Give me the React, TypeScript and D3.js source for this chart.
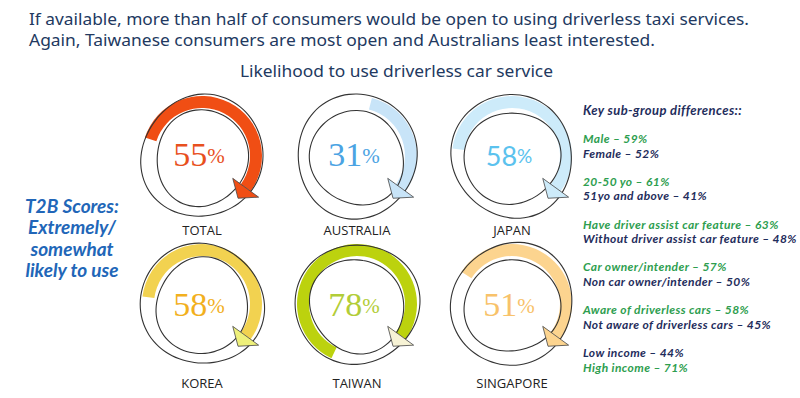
import React from 'react';
import { arc, curveCardinalClosed, lineRadial, range, scalePoint } from 'd3';

const categories = ['TOTAL', 'AUSTRALIA', 'JAPAN', 'KOREA', 'TAIWAN', 'SINGAPORE'];
const values = [55, 31, 58, 58, 78, 51];
const bandColors = ['#F04E14', '#C8E4F8', '#CDEBFA', '#F2D250', '#BCD20E', '#FCD48F'];
const arrowColors = ['#F04E14', '#C8E4F8', '#CDEBFA', '#EEF07A', '#F7F3D5', '#FCD48F'];
const numberColors = ['#E8501E', '#4BA3E3', '#5BC2EE', '#F2B01E', '#B2CD38', '#F8C26A'];
const serifNumbers = [true, true, false, true, true, true];

const titleLines = [
  'If available, more than half of consumers would be open to using driverless taxi services.',
  'Again, Taiwanese consumers are most open and Australians least interested.',
];
const subtitle = 'Likelihood to use driverless car service';
const leftNote = ['T2B Scores:', 'Extremely/', 'somewhat', 'likely to use'];

const keyHeader = 'Key sub-group differences::';
const keyLines = [
  ['Male \u2013 59%', 'Female \u2013 52%'],
  ['20-50 yo \u2013 61%', '51yo and above \u2013 41%'],
  ['Have driver assist car feature \u2013 63%', 'Without driver assist car feature \u2013 48%'],
  ['Car owner/intender \u2013 57%', 'Non car owner/intender \u2013 50%'],
  ['Aware of driverless cars \u2013 58%', 'Not aware of driverless cars \u2013 45%'],
  ['Low income \u2013 44%', 'High income \u2013 71%'],
];
// true = green (higher group), false = navy
const keyGreen = [
  [true, false],
  [true, false],
  [true, false],
  [true, false],
  [true, false],
  [false, true],
];

const width = 800;
const height = 398;
const navy = '#22395F';
const green = '#2E9E4F';
const keyNavy = '#1F2D5C';

const outerR = 61;
const innerR = 47;
const endDeg = 126;

const col = scalePoint<number>().domain([0, 1, 2]).range([202, 512]);
const row = scalePoint<number>().domain([0, 1]).range([156, 304]);

const bandArc = arc<{ start: number; end: number }>()
  .innerRadius(innerR + 1)
  .outerRadius(outerR - 1)
  .startAngle(d => d.start)
  .endAngle(d => d.end);

// slightly wobbly closed outline to mimic the hand drawn rings
function sketchCircle(r: number, seed: number) {
  const pts = range(0, 48).map(i => {
    const t = (i / 48) * Math.PI * 2;
    const rr = r + 1.6 * Math.sin(2 * t + seed) + 0.9 * Math.cos(3 * t + seed * 1.7);
    return [t, rr] as [number, number];
  });
  return lineRadial().curve(curveCardinalClosed)(pts) ?? '';
}

function Ring({ i }: { i: number }) {
  const cx = col(i % 3)!;
  const cy = row(Math.floor(i / 3))!;
  const e = (endDeg * Math.PI) / 180;
  const s = e - (values[i] / 100) * Math.PI * 2;
  const mid = (innerR + outerR) / 2;
  const radial = [Math.sin(e), -Math.cos(e)];
  const tangent = [Math.cos(e), Math.sin(e)];
  const bx = mid * radial[0];
  const by = mid * radial[1];
  const half = 16;
  const tip = 13;
  const head = [
    [bx - half * radial[0], by - half * radial[1]],
    [bx + half * radial[0], by + half * radial[1]],
    [bx + tip * tangent[0], by + tip * tangent[1]],
  ];
  const numFont = serifNumbers[i] ? '"Liberation Serif", "DejaVu Serif", serif' : 'Lato, "Open Sans", sans-serif';
  const labelY = i < 3 ? 79 : 84;
  return (
    <g transform={`translate(${cx},${cy})`}>
      <path d={bandArc({ start: s, end: e }) ?? ''} fill={bandColors[i]} />
      <path d={sketchCircle(outerR, i * 1.3)} fill="none" stroke="#333" strokeWidth={1.1} />
      <path d={sketchCircle(innerR, i * 2.1 + 1)} transform="translate(0,2)" fill="none" stroke="#333" strokeWidth={1.1} />
      <path
        d={`M${head.map(p => p.join(',')).join('L')}Z`}
        fill={arrowColors[i]}
        stroke="#444"
        strokeWidth={0.8}
        strokeLinejoin="round"
      />
      <text
        x={-3}
        y={i < 3 ? 10 : 12}
        textAnchor="middle"
        fontFamily={numFont}
        fontSize={serifNumbers[i] ? 34 : 27}
        fill={numberColors[i]}
      >
        {values[i]}
        <tspan fontSize={serifNumbers[i] ? 21 : 19} dy={-3}>%</tspan>
      </text>
      <text
        x={0}
        y={labelY}
        textAnchor="middle"
        fontFamily='"Open Sans", "Noto Sans", sans-serif'
        fontSize={13}
        fill="#222"
      >
        {categories[i]}
      </text>
    </g>
  );
}

export default function App() {
  return (
    <svg width={width} height={height} style={{ position: 'absolute', left: 0, top: 0, background: '#fff' }}>
      <rect width={width} height={height} fill="#fff" />
      {titleLines.map((t, k) => (
        <text
          key={t}
          x={29}
          y={25 + k * 21}
          fontFamily='"Noto Sans", "Open Sans", sans-serif'
          fontSize={17}
          fill={navy}
          textLength={k === 0 ? 720 : 626}
          lengthAdjust="spacingAndGlyphs"
        >
          {t}
        </text>
      ))}
      <text
        x={240}
        y={77}
        fontFamily='"Noto Sans", "Open Sans", sans-serif'
        fontSize={16.5}
        fill={navy}
        textLength={313}
        lengthAdjust="spacingAndGlyphs"
      >
        {subtitle}
      </text>

      {leftNote.map((t, k) => (
        <text
          key={t}
          x={72}
          y={213 + k * 21.3}
          textAnchor="middle"
          fontFamily='Lato, "Open Sans", sans-serif'
          fontWeight="bold"
          fontStyle="italic"
          fontSize={19}
          fill="#2166B8"
        >
          {t}
        </text>
      ))}

      {categories.map((c, i) => (
        <Ring key={c} i={i} />
      ))}

      <g fontFamily='Lato, "Open Sans", sans-serif' fontWeight="bold" fontStyle="italic" fontSize={12} letterSpacing={0.4}>
        <text x={583} y={115} fill={keyNavy} fontSize={13}>
          {keyHeader}
        </text>
        {keyLines.map((pair, g) =>
          pair.map((t, k) => (
            <text key={t} x={583} y={143 + g * 42.8 + k * 14.5} fill={keyGreen[g][k] ? green : keyNavy}>
              {t}
            </text>
          ))
        )}
      </g>
    </svg>
  );
}
